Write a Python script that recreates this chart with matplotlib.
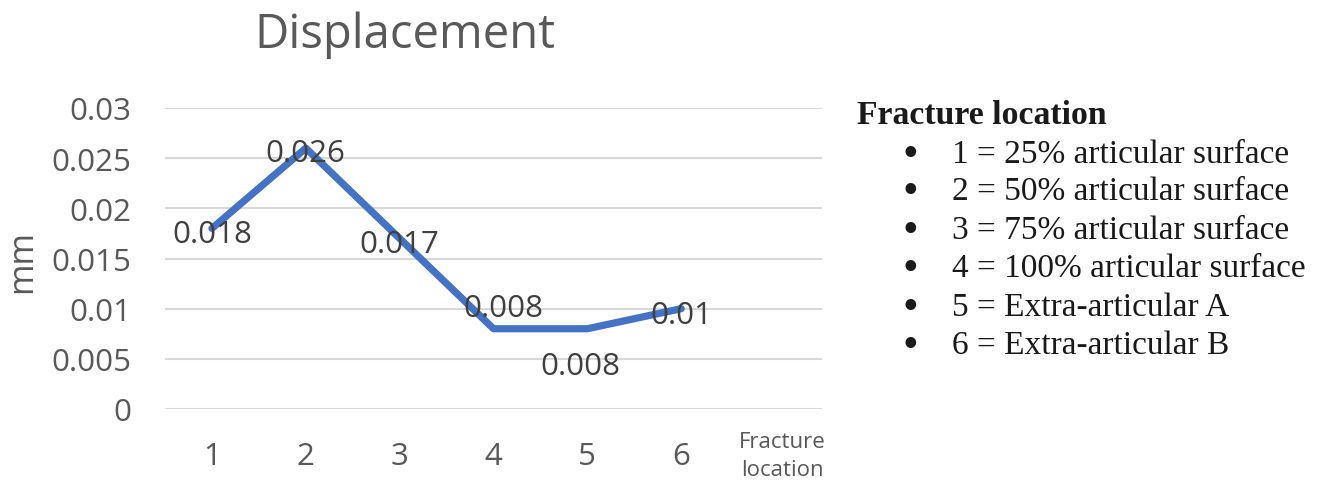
import matplotlib
matplotlib.use("Agg")
import matplotlib.pyplot as plt
import matplotlib.transforms as mtransforms

# ---- data ----
categories = ["1", "2", "3", "4", "5", "6", "Fracture\nlocation"]
values = [0.018, 0.026, 0.017, 0.008, 0.008, 0.01]
value_labels = ["0.018", "0.026", "0.017", "0.008", "0.008", "0.01"]
y_ticks = [0, 0.005, 0.01, 0.015, 0.02, 0.025, 0.03]
y_tick_labels = ["0", "0.005", "0.01", "0.015", "0.02", "0.025", "0.03"]
legend_title = "Fracture location"
legend_items = [
    "1 = 25% articular surface",
    "2 = 50% articular surface",
    "3 = 75% articular surface",
    "4 = 100% articular surface",
    "5 = Extra-articular A",
    "6 = Extra-articular B",
]

# label offsets (pixels) - styling
label_offsets = [(0, -6), (0, -5), (0, -6), (10, 21), (-7, -37), (0, -6)]

W, H, DPI = 1332, 481, 100
fig = plt.figure(figsize=(W / DPI, H / DPI), dpi=DPI)
fig.patch.set_facecolor("white")

ax_left, ax_right, ax_top, ax_bottom = 165, 822, 109, 410
ax = fig.add_axes([ax_left / W, (H - ax_bottom) / H,
                   (ax_right - ax_left) / W, (ax_bottom - ax_top) / H])

sans = ["Open Sans", "DejaVu Sans"]
gray = "#595959"

x = list(range(1, len(values) + 1))
ax.plot(x, values, color="#4472C4", linewidth=5.2, solid_joinstyle="round",
        solid_capstyle="round", zorder=3)

for xi, v, lab, off in zip(x, values, value_labels, label_offsets):
    ax.annotate(lab, (xi, v), xytext=(off[0] * 0.72, off[1] * 0.72),
                textcoords="offset points", ha="center", va="center",
                fontsize=22.5, color="#404040", family=sans, zorder=4)

ax.set_xlim(0.5, len(categories) + 0.5)
ax.set_ylim(0, 0.03)
ax.set_yticks(y_ticks)
ax.set_yticklabels(y_tick_labels)
ax.set_xticks(range(1, len(categories) + 1))
ax.set_xticklabels(categories)

ax.grid(axis="y", color="#D9D9D9", linewidth=1.5, zorder=0)
ax.set_axisbelow(True)
for s in ax.spines.values():
    s.set_visible(False)
ax.tick_params(axis="both", length=0)
ax.tick_params(axis="y", pad=24, labelsize=22.5, labelcolor=gray)
ax.tick_params(axis="x", pad=33.5, labelsize=22.5, labelcolor=gray)
for lbl in ax.get_yticklabels():
    lbl.set_family(sans)
for lbl in ax.get_xticklabels():
    lbl.set_family(sans)
    lbl.set_va("center")
xl = ax.get_xticklabels()[-1]
xl.set_fontsize(16)
xl.set_multialignment("center")
xl.set_linespacing(1.4)
xl.set_transform(xl.get_transform() +
                 mtransforms.ScaledTranslation(7 / DPI, 0, fig.dpi_scale_trans))

ax.set_ylabel("mm", fontsize=24.5, color=gray, family=sans, va="center")
ax.yaxis.set_label_coords((22 - ax_left) / (ax_right - ax_left), 0.495)

ax.set_title("Displacement", fontsize=34, color=gray, family=sans,
             x=(405 - ax_left) / (ax_right - ax_left),
             y=(ax_bottom - 35) / (ax_bottom - ax_top), va="center", pad=0)

serif = ["Liberation Serif", "DejaVu Serif"]
fig.text(857 / W, 1 - 116 / H, legend_title, fontsize=24.3, fontweight="bold",
         family=serif, color="#1a1a1a", ha="left", va="center")
item_y = [155, 192, 231, 269, 308, 346]
for yy, item in zip(item_y, legend_items):
    fig.text(910 / W, 1 - yy / H, "\u2022", fontsize=32, family=serif,
             color="#1a1a1a", ha="center", va="center")
    fig.text(952 / W, 1 - yy / H, item, fontsize=24, family=serif,
             color="#1a1a1a", ha="left", va="center")

fig.savefig("out.png", dpi=DPI)
